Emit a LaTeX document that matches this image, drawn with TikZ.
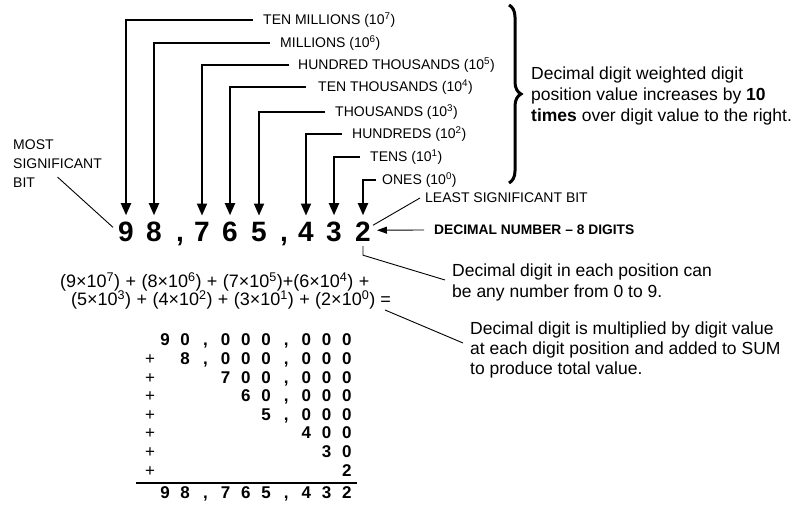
\documentclass[tikz,border=0pt]{standalone}
\usepackage{fontspec}
\setmainfont{Liberation Sans}
\usetikzlibrary{arrows.meta,decorations.pathreplacing}

\newcommand\dg[1]{\makebox[20.2pt]{#1}}
\newcommand\gap{\hspace{0.3em}}

\tikzset{
  lbl/.style={anchor=west, inner sep=0pt, align=left, font=\fontsize{14}{19}\selectfont},
  boldlbl/.style={lbl, font=\fontsize{13.8}{19}\selectfont\bfseries},
  bigdig/.style={anchor=base, inner sep=0pt, font=\fontsize{28}{30}\selectfont\bfseries},
  note/.style={anchor=west, inner sep=0pt, align=left, font=\fontsize{17.5}{21}\selectfont},
  eqn/.style={anchor=west, inner sep=0pt, font=\fontsize{18}{19}\selectfont},
  sumrow/.style={anchor=base east, inner sep=0pt, font=\fontsize{17}{19}\selectfont\bfseries},
  plus/.style={anchor=base, inner sep=0pt, font=\fontsize{17}{19}\selectfont},
  posarrow/.style={line width=1.8pt, line join=miter, -{Triangle[width=10pt,length=12pt]}},
  leader/.style={line width=0.9pt},
}

\begin{document}
\begin{tikzpicture}[x=1pt,y=1pt,yscale=-1,xscale=1]
  \useasboundingbox (0,0) rectangle (804,510);

  % Decimal number
  \node[bigdig] (d7) at (126,242) {9};
  \node[bigdig] (d6) at (154,242) {8};
  \node[bigdig] (c1) at (180,242) {,};
  \node[bigdig] (d5) at (202,242) {7};
  \node[bigdig] (d4) at (230,242) {6};
  \node[bigdig] (d3) at (259,242) {5};
  \node[bigdig] (c2) at (284,242) {,};
  \node[bigdig] (d2) at (306,242) {4};
  \node[bigdig] (d1) at (334,242) {3};
  \node[bigdig] (d0) at (363,242) {2};

  % Text Node
  \node[lbl] (tenmil) at (263,20) {TEN MILLIONS (10\textsuperscript{7})};
  \node[lbl] (mil) at (280,43) {MILLIONS (10\textsuperscript{6})};
  \node[lbl] (hunthou) at (298,65) {HUNDRED THOUSANDS (10\textsuperscript{5})};
  \node[lbl] (tenthou) at (318,87) {TEN THOUSANDS (10\textsuperscript{4})};
  \node[lbl] (thou) at (335,112) {THOUSANDS (10\textsuperscript{3})};
  \node[lbl] (hund) at (352,134) {HUNDREDS (10\textsuperscript{2})};
  \node[lbl] (tens) at (370,157) {TENS (10\textsuperscript{1})};
  \node[lbl] (ones) at (382,180) {ONES (10\textsuperscript{0})};

  %Straight Lines
  \draw[posarrow] ([xshift=-10pt]tenmil.west) -| ([yshift=-7pt]d7.north);
  \draw[posarrow] ([xshift=-10pt]mil.west) -| ([yshift=-7pt]d6.north);
  \draw[posarrow] ([xshift=-9pt]hunthou.west) -| ([yshift=-7pt]d5.north);
  \draw[posarrow] ([xshift=-12pt]tenthou.west) -| ([yshift=-7pt]d4.north);
  \draw[posarrow] ([xshift=-10pt]thou.west) -| ([yshift=-7pt]d3.north);
  \draw[posarrow] ([xshift=-10pt]hund.west) -| ([yshift=-7pt]d2.north);
  \draw[posarrow] ([xshift=-10pt]tens.west) -| ([yshift=-7pt]d1.north);
  \draw[posarrow] ([xshift=-6pt]ones.west) -| ([yshift=-7pt]d0.north);

  % Brace
  \draw[line width=3pt, decorate, decoration={brace, amplitude=12pt}] (509,5) -- (509,183);
  \node[note] (weight) at (531,96) {Decimal digit weighted digit\\position value increases by \textbf{10}\\\textbf{times} over digit value to the right.};

  % Text Node
  \node[lbl] (msb) at (13,164) {MOST\\SIGNIFICANT\\BIT};
  \draw[leader] ([yshift=-11pt]msb.south) -- ([xshift=-5pt,yshift=-5pt]d7.west);

  \node[lbl] (lsb) at (425,198) {LEAST SIGNIFICANT BIT};
  \draw[leader] ([xshift=2pt,yshift=3pt]d0.north east) -- ([xshift=-5pt]lsb.west);

  \node[boldlbl] (decnum) at (434,230) {DECIMAL NUMBER -- 8 DIGITS};
  \draw[leader, -{Triangle[width=7pt,length=10pt]}] ([xshift=-10pt]decnum.west) -- ([xshift=6pt,yshift=-2pt]d0.east);

  \node[note] (anynum) at (452,282.5) {Decimal digit in each position can\\be any number from 0 to 9.};
  \draw[leader] ([yshift=4pt]d0.south) -- ++(0,9) -- ([xshift=-7pt,yshift=-2.5pt]anynum.west);

  % Expansion
  \node[eqn] (eq1) at (60,282) {(9×10\textsuperscript{7})\gap+\gap(8×10\textsuperscript{6})\gap+\gap(7×10\textsuperscript{5})+(6×10\textsuperscript{4})\gap+};
  \node[eqn] (eq2) at (71,300) {(5×10\textsuperscript{3})\gap+\gap(4×10\textsuperscript{2})\gap+\gap(3×10\textsuperscript{1})\gap+\gap(2×10\textsuperscript{0}) =};

  \node[note, font=\fontsize{17.5}{20}\selectfont] (sumnote) at (470,350) {Decimal digit is multiplied by digit value\\at each digit position and added to SUM\\to produce total value.};
  \draw[leader] ([xshift=-6pt,yshift=10pt]eq2.east) -- ([xshift=-7pt,yshift=-7pt]sumnote.west);

  % Sum
  \node[sumrow] (r7) at (357.1,346) {\dg9\dg0\dg,\dg0\dg0\dg0\dg,\dg0\dg0\dg0};
  \node[sumrow] (r6) at (357.1,364.6) {\dg8\dg,\dg0\dg0\dg0\dg,\dg0\dg0\dg0};
  \node[sumrow] (r5) at (357.1,383.2) {\dg7\dg0\dg0\dg,\dg0\dg0\dg0};
  \node[sumrow] (r4) at (357.1,401.8) {\dg6\dg0\dg,\dg0\dg0\dg0};
  \node[sumrow] (r3) at (357.1,420.4) {\dg5\dg,\dg0\dg0\dg0};
  \node[sumrow] (r2) at (357.1,439) {\dg4\dg0\dg0};
  \node[sumrow] (r1) at (357.1,457.6) {\dg3\dg0};
  \node[sumrow] (r0) at (357.1,476.2) {\dg2};
  \node[plus] (p6) at (150,364.6) {+};
  \node[plus] (p5) at (150,383.2) {+};
  \node[plus] (p4) at (150,401.8) {+};
  \node[plus] (p3) at (150,420.4) {+};
  \node[plus] (p2) at (150,439) {+};
  \node[plus] (p1) at (150,457.6) {+};
  \node[plus] (p0) at (150,476.2) {+};
  \draw[line width=2pt] (136,483) -- (357,483);
  \node[sumrow] (total) at (357.1,499) {\dg9\dg8\dg,\dg7\dg6\dg5\dg,\dg4\dg3\dg2};
\end{tikzpicture}
\end{document}
